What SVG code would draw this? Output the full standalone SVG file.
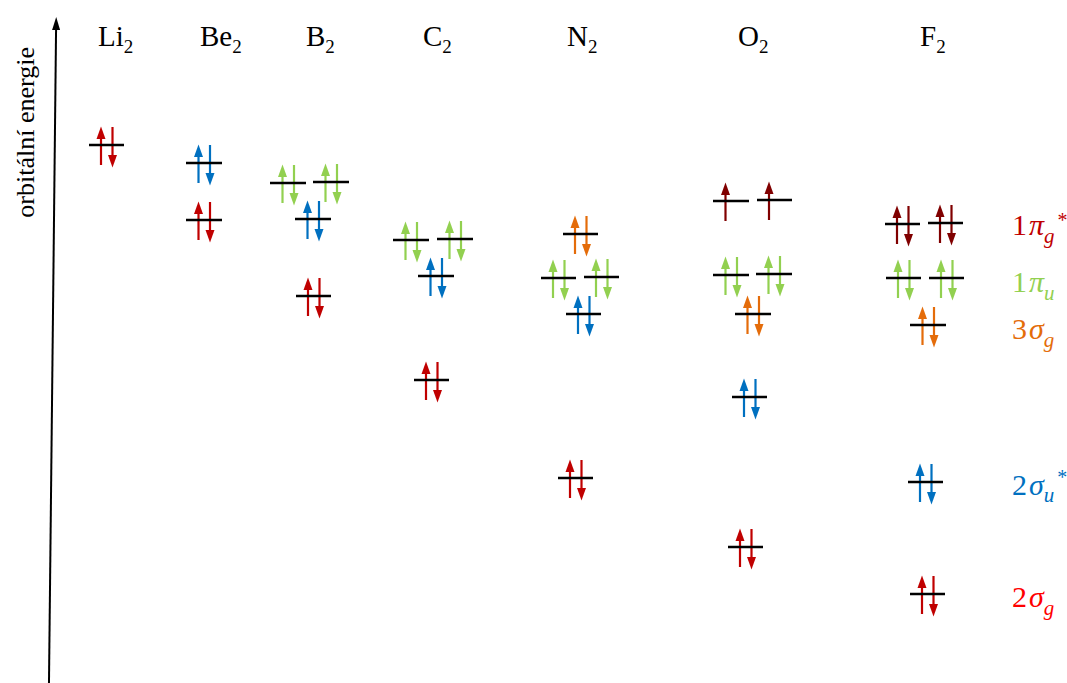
<svg xmlns="http://www.w3.org/2000/svg" xmlns:xlink="http://www.w3.org/1999/xlink" width="1067" height="683" viewBox="0 0 1067 683">
<style>
text{font-family:"Liberation Serif","Times New Roman",serif;fill:#000}
.lvl{stroke:#000;stroke-width:2.5}
.st{stroke:currentColor;stroke-width:2.2;fill:none}
.hd{fill:currentColor;stroke:none}
.it{font-style:italic}
.red{color:#C00000}.blue{color:#0070C0}.green{color:#92D050}.orange{color:#E46C0A}.dred{color:#800000}
</style>
<defs>
<g id="up"><line class="st" x1="-5.5" y1="20" x2="-5.5" y2="-7"/><polygon class="hd" points="-5.5,-18.5 -10,-6 -1,-6"/></g>
<g id="pair"><use xlink:href="#up"/><line class="st" x1="6" y1="-18" x2="6" y2="11"/><polygon class="hd" points="6,22.5 1.5,10 10.5,10"/></g>
</defs>
<rect width="1067" height="683" fill="#fff"/>
<g id="axis">
<line x1="48.9" y1="690" x2="56.1" y2="26" stroke="#000" stroke-width="2"/>
<polygon points="56.2,17 52.1,30 60.1,30" fill="#000"/>
<text transform="translate(34,47) rotate(-90)" text-anchor="end" font-size="26">orbitální energie</text>
</g>
<g id="titles" font-size="29">
<text x="98" y="46">Li<tspan font-size="19" dy="7">2</tspan></text>
<text x="200" y="46">Be<tspan font-size="19" dy="7">2</tspan></text>
<text x="306" y="46">B<tspan font-size="19" dy="7">2</tspan></text>
<text x="423" y="46">C<tspan font-size="19" dy="7">2</tspan></text>
<text x="567" y="46">N<tspan font-size="19" dy="7">2</tspan></text>
<text x="738" y="46">O<tspan font-size="19" dy="7">2</tspan></text>
<text x="920" y="46">F<tspan font-size="19" dy="7">2</tspan></text>
</g>
<g id="Li2">
<use xlink:href="#pair" class="red" transform="translate(106.5,145)"/>
<line class="lvl" x1="89" y1="145" x2="124" y2="145"/>
</g>
<g id="Be2">
<use xlink:href="#pair" class="blue" transform="translate(204,163)"/>
<line class="lvl" x1="186" y1="163" x2="222" y2="163"/>
<use xlink:href="#pair" class="red" transform="translate(204,220)"/>
<line class="lvl" x1="186" y1="220" x2="222" y2="220"/>
</g>
<g id="B2">
<use xlink:href="#pair" class="green" transform="translate(288,183)"/>
<line class="lvl" x1="270" y1="183" x2="306" y2="183"/>
<use xlink:href="#pair" class="green" transform="translate(331,182)"/>
<line class="lvl" x1="313" y1="182" x2="349" y2="182"/>
<use xlink:href="#pair" class="blue" transform="translate(313,219)"/>
<line class="lvl" x1="295" y1="219" x2="331" y2="219"/>
<use xlink:href="#pair" class="red" transform="translate(313.5,296)"/>
<line class="lvl" x1="296" y1="296" x2="331" y2="296"/>
</g>
<g id="C2">
<use xlink:href="#pair" class="green" transform="translate(411,240)"/>
<line class="lvl" x1="393" y1="240" x2="429" y2="240"/>
<use xlink:href="#pair" class="green" transform="translate(455,239)"/>
<line class="lvl" x1="437" y1="239" x2="473" y2="239"/>
<use xlink:href="#pair" class="blue" transform="translate(436,276)"/>
<line class="lvl" x1="418" y1="276" x2="454" y2="276"/>
<use xlink:href="#pair" class="red" transform="translate(431.5,380)"/>
<line class="lvl" x1="414" y1="380" x2="449" y2="380"/>
</g>
<g id="N2">
<use xlink:href="#pair" class="orange" transform="translate(580.5,234)"/>
<line class="lvl" x1="563" y1="234" x2="598" y2="234"/>
<use xlink:href="#pair" class="green" transform="translate(558.5,278)"/>
<line class="lvl" x1="541" y1="278" x2="576" y2="278"/>
<use xlink:href="#pair" class="green" transform="translate(601.5,277)"/>
<line class="lvl" x1="584" y1="277" x2="619" y2="277"/>
<use xlink:href="#pair" class="blue" transform="translate(583.5,314)"/>
<line class="lvl" x1="566" y1="314" x2="601" y2="314"/>
<use xlink:href="#pair" class="red" transform="translate(575.5,478)"/>
<line class="lvl" x1="558" y1="478" x2="593" y2="478"/>
</g>
<g id="O2">
<use xlink:href="#up" class="dred" transform="translate(731,201)"/>
<line class="lvl" x1="713" y1="201" x2="749" y2="201"/>
<use xlink:href="#up" class="dred" transform="translate(774.5,200)"/>
<line class="lvl" x1="757" y1="200" x2="792" y2="200"/>
<use xlink:href="#pair" class="green" transform="translate(731,275)"/>
<line class="lvl" x1="713" y1="275" x2="749" y2="275"/>
<use xlink:href="#pair" class="green" transform="translate(774,274)"/>
<line class="lvl" x1="756" y1="274" x2="792" y2="274"/>
<use xlink:href="#pair" class="orange" transform="translate(753,314)"/>
<line class="lvl" x1="735" y1="314" x2="771" y2="314"/>
<use xlink:href="#pair" class="blue" transform="translate(749.5,397)"/>
<line class="lvl" x1="732" y1="397" x2="767" y2="397"/>
<use xlink:href="#pair" class="red" transform="translate(745.5,547)"/>
<line class="lvl" x1="728" y1="547" x2="763" y2="547"/>
</g>
<g id="F2">
<use xlink:href="#pair" class="dred" transform="translate(902.5,224)"/>
<line class="lvl" x1="885" y1="224" x2="920" y2="224"/>
<use xlink:href="#pair" class="dred" transform="translate(945.5,223)"/>
<line class="lvl" x1="928" y1="223" x2="963" y2="223"/>
<use xlink:href="#pair" class="green" transform="translate(903.5,278)"/>
<line class="lvl" x1="886" y1="278" x2="921" y2="278"/>
<use xlink:href="#pair" class="green" transform="translate(946.5,278)"/>
<line class="lvl" x1="929" y1="278" x2="964" y2="278"/>
<use xlink:href="#pair" class="orange" transform="translate(928,325)"/>
<line class="lvl" x1="910" y1="325" x2="946" y2="325"/>
<use xlink:href="#pair" class="blue" transform="translate(925.5,482)"/>
<line class="lvl" x1="908" y1="482" x2="943" y2="482"/>
<use xlink:href="#pair" class="red" transform="translate(927.5,594)"/>
<line class="lvl" x1="910" y1="594" x2="945" y2="594"/>
</g>
<g id="labels" font-size="30">
<text x="1012" y="235" style="fill:#C00000">1<tspan class="it" dx="2">π</tspan><tspan class="it" font-size="21" dy="8">g</tspan><tspan font-size="20" dy="-16" dx="3">*</tspan></text>
<text x="1012" y="292" style="fill:#92D050">1<tspan class="it" dx="2">π</tspan><tspan class="it" font-size="21" dy="8">u</tspan></text>
<text x="1012" y="339" style="fill:#E46C0A">3<tspan class="it" dx="2">σ</tspan><tspan class="it" font-size="21" dy="8">g</tspan></text>
<text x="1012" y="495" style="fill:#0070C0">2<tspan class="it" dx="2">σ</tspan><tspan class="it" font-size="21" dy="7">u</tspan><tspan font-size="20" dy="-18" dx="3">*</tspan></text>
<text x="1012" y="607" style="fill:#FF0000">2<tspan class="it" dx="2">σ</tspan><tspan class="it" font-size="21" dy="8">g</tspan></text>
</g>
</svg>
